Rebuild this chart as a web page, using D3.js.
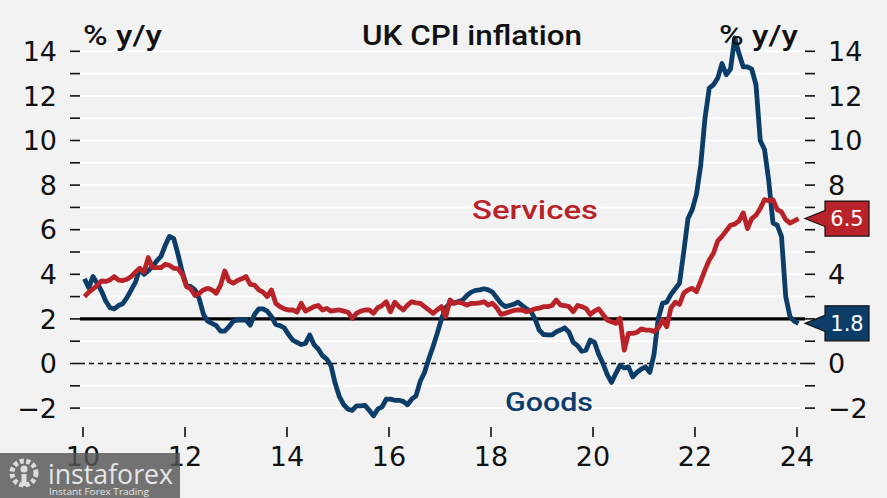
<!DOCTYPE html>
<html>
<head>
<meta charset="utf-8">
<script src="https://cdnjs.cloudflare.com/ajax/libs/d3/7.8.5/d3.min.js"></script>
<style>
  html, body { margin: 0; padding: 0; background: #f2f2f2; }
  svg { display: block; }
</style>
</head>
<body>
<div id="chart"></div>
<script>
// ---------- DATA ----------
const startYear = 2010; // monthly data, Jan 2010 .. Jan 2024
const goods = [
  3.8, 3.4, 3.9, 3.6, 3.25, 2.8, 2.5, 2.45, 2.6, 2.68, 2.95, 3.3,
  3.65, 4.25, 4.0, 4.15, 4.35, 4.6, 4.8, 5.3, 5.7, 5.6, 4.9, 4.1,
  3.5, 3.45, 3.3, 2.9, 2.2, 1.9, 1.8, 1.7, 1.45, 1.45, 1.65, 1.9,
  1.95, 1.95, 1.95, 1.72, 2.2, 2.45, 2.45, 2.35, 2.1, 1.75, 1.7, 1.6,
  1.3, 1.05, 0.95, 0.85, 0.9, 1.28, 0.85, 0.65, 0.35, 0.2, -0.1, -0.9,
  -1.5, -1.85, -2.05, -2.1, -1.9, -1.9, -1.88, -2.1, -2.35, -2.05, -1.95, -1.6,
  -1.6, -1.65, -1.65, -1.7, -1.85, -1.6, -1.45, -0.8, -0.4, 0.2, 0.75, 1.35,
  2.0, 2.5, 2.7, 2.72, 2.78, 2.85, 3.05, 3.2, 3.28, 3.3, 3.35, 3.3,
  3.2, 2.95, 2.7, 2.55, 2.6, 2.65, 2.75, 2.6, 2.45, 2.35, 2.0, 1.5,
  1.3, 1.28, 1.28, 1.42, 1.5, 1.6, 1.4, 0.95, 0.8, 0.55, 0.6, 1.05,
  0.95, 0.4, 0.0, -0.5, -0.85, -0.45, -0.08, -0.2, -0.15, -0.6, -0.4, -0.25,
  -0.15, -0.4, 0.4, 2.0, 2.7, 2.75, 3.1, 3.35, 3.6, 5.0, 6.5, 6.9,
  7.6, 8.9, 11.0, 12.35, 12.5, 12.8, 13.45, 12.95, 13.2, 14.6, 13.9, 13.3,
  13.3, 13.2, 12.5, 10.0, 9.6, 8.2, 6.3, 6.2, 5.7, 3.0, 2.1, 1.9,
  1.8
];
const services = [
  3.0, 3.2, 3.35, 3.5, 3.7, 3.68, 3.75, 3.9, 3.74, 3.72, 3.78, 3.9,
  4.1, 4.27, 4.1, 4.75, 4.3, 4.3, 4.3, 4.45, 4.4, 4.27, 4.25, 4.0,
  3.45, 3.35, 3.05, 3.15, 3.3, 3.37, 3.3, 3.15, 3.5, 4.15, 3.7, 3.6,
  3.72, 3.8, 3.9, 3.55, 3.52, 3.3, 3.2, 3.0, 3.3, 2.7, 2.55, 2.45,
  2.4, 2.4, 2.3, 2.7, 2.35, 2.45, 2.55, 2.6, 2.4, 2.47, 2.35, 2.38,
  2.4, 2.35, 2.3, 2.03, 2.25, 2.35, 2.4, 2.4, 2.25, 2.5, 2.6, 2.77,
  2.32, 2.75, 2.55, 2.4, 2.62, 2.77, 2.72, 2.7, 2.55, 2.4, 2.25, 2.4,
  2.55, 2.1, 2.85, 2.7, 2.75, 2.7, 2.62, 2.7, 2.7, 2.72, 2.77, 2.62,
  2.7, 2.5, 2.2, 2.25, 2.32, 2.38, 2.4, 2.4, 2.32, 2.38, 2.45, 2.48,
  2.55, 2.55, 2.6, 2.85, 2.62, 2.6, 2.55, 2.32, 2.6, 2.55, 2.47, 2.2,
  2.35, 2.45, 2.2, 1.95, 1.87, 1.8, 2.03, 0.6, 1.35, 1.35, 1.4, 1.55,
  1.5, 1.5, 1.43, 1.6, 1.95, 1.65, 2.5, 2.75, 2.65, 3.15, 3.3, 3.37,
  3.22, 3.7, 4.2, 4.64, 4.94, 5.5, 5.7, 5.95, 6.2, 6.25, 6.4, 6.75,
  6.05, 6.5, 6.65, 6.95, 7.35, 7.3, 7.35, 6.9, 6.8, 6.45, 6.3, 6.4,
  6.5
];
const months = d3.range(goods.length).map(i => startYear + (i + 0.35) / 12);
const xTicks = [2010, 2012, 2014, 2016, 2018, 2020, 2022, 2024];
const xTickLabels = ["10", "12", "14", "16", "18", "20", "22", "24"];
const yTicks = [-2, 0, 2, 4, 6, 8, 10, 12, 14];
const yTicksRightVisible = [-2, 0, 4, 8, 10, 12, 14]; // 2 and 6 are hidden behind the value flags
const yMinor = [-2, -1, 0, 1, 2, 3, 4, 5, 6, 7, 8, 9, 10, 11, 12, 13, 14];
const targetLevel = 2;
const lastGoodsLabel = "1.8";
const lastServicesLabel = "6.5";

// ---------- LAYOUT ----------
const W = 887, H = 498;
const BLUE = "#0b3d68", RED = "#b8232a";
const x = d3.scaleLinear().domain([2010, 2024]).range([83, 797]);
const y = d3.scaleLinear().domain([0, 14]).range([363.5, 51.3]);
const plotL = 80, plotR = 805;

const svg = d3.select("#chart").append("svg")
  .attr("width", W).attr("height", H)
  .style("font-family", "'DejaVu Sans', sans-serif");

svg.append("rect").attr("width", W).attr("height", H).attr("fill", "#f2f2f2");

// gridlines
svg.append("g").selectAll("line").data(yMinor.filter(v => v !== 0 && v !== targetLevel))
  .join("line")
  .attr("x1", plotL).attr("x2", plotR)
  .attr("y1", d => y(d)).attr("y2", d => y(d))
  .attr("stroke", "#ffffff").attr("stroke-width", 2);

// minor ticks left & right
const tickG = svg.append("g").attr("stroke", "#111").attr("stroke-width", 1.6);
tickG.selectAll(".tl").data(yMinor).join("line")
  .attr("x1", 70).attr("x2", 80).attr("y1", d => y(d)).attr("y2", d => y(d));
tickG.selectAll(".tr").data(yMinor).join("line")
  .attr("x1", 805).attr("x2", 815).attr("y1", d => y(d)).attr("y2", d => y(d));

// zero dashed line
svg.append("line")
  .attr("x1", 80).attr("x2", 805)
  .attr("y1", y(0)).attr("y2", y(0))
  .attr("stroke", "#111").attr("stroke-width", 1.6)
  .attr("stroke-dasharray", "5,4");

// y labels
const fmt = d => d < 0 ? "\u2212" + Math.abs(d) : String(d);
svg.append("g").selectAll("text").data(yTicks).join("text")
  .attr("x", 57).attr("y", d => y(d)).attr("dy", "0.36em")
  .attr("text-anchor", "end").attr("font-size", 27).attr("fill", "#111")
  .text(fmt);
svg.append("g").selectAll("text").data(yTicksRightVisible).join("text")
  .attr("x", 828).attr("y", d => y(d)).attr("dy", "0.36em")
  .attr("text-anchor", "start").attr("font-size", 27).attr("fill", "#111")
  .text(fmt);

// x ticks & labels
svg.append("g").selectAll("line").data(xTicks).join("line")
  .attr("x1", d => x(d)).attr("x2", d => x(d))
  .attr("y1", 427).attr("y2", 437)
  .attr("stroke", "#111").attr("stroke-width", 1.6);
svg.append("g").selectAll("text").data(xTicks).join("text")
  .attr("x", d => x(d)).attr("y", 466)
  .attr("text-anchor", "middle").attr("font-size", 27).attr("fill", "#111")
  .text((d, i) => xTickLabels[i]);

// target line at 2
svg.append("line")
  .attr("x1", plotL).attr("x2", plotR)
  .attr("y1", y(targetLevel)).attr("y2", y(targetLevel))
  .attr("stroke", "#000").attr("stroke-width", 3.2);

// data lines
const line = d3.line().x((d, i) => x(months[i])).y(d => y(d));
svg.append("path").datum(goods).attr("d", line)
  .attr("fill", "none").attr("stroke", BLUE).attr("stroke-width", 4.8)
  .attr("stroke-linejoin", "round");
svg.append("path").datum(services).attr("d", line)
  .attr("fill", "none").attr("stroke", RED).attr("stroke-width", 4.8)
  .attr("stroke-linejoin", "round");

// titles
svg.append("text").attr("x", 472).attr("y", 45).attr("text-anchor", "middle")
  .attr("font-family", "Roboto, sans-serif").attr("font-weight", 500)
  .attr("font-size", 27).attr("fill", "#111")
  .attr("textLength", 220).attr("lengthAdjust", "spacingAndGlyphs")
  .text("UK CPI inflation");
svg.append("text").attr("x", 83).attr("y", 45)
  .attr("font-family", "Roboto, sans-serif").attr("font-weight", 500)
  .attr("font-size", 27).attr("fill", "#111")
  .attr("textLength", 79).attr("lengthAdjust", "spacingAndGlyphs")
  .text("% y/y");
svg.append("text").attr("x", 719).attr("y", 45)
  .attr("font-family", "Roboto, sans-serif").attr("font-weight", 500)
  .attr("font-size", 27).attr("fill", "#111")
  .attr("textLength", 79).attr("lengthAdjust", "spacingAndGlyphs")
  .text("% y/y");

// series labels
svg.append("text").attr("x", 472).attr("y", 219)
  .attr("font-family", "Roboto, sans-serif").attr("font-weight", 500)
  .attr("font-size", 26).attr("fill", RED)
  .attr("textLength", 126).attr("lengthAdjust", "spacingAndGlyphs")
  .text("Services");
svg.append("text").attr("x", 505).attr("y", 411)
  .attr("font-family", "Roboto, sans-serif").attr("font-weight", 500)
  .attr("font-size", 26).attr("fill", BLUE)
  .attr("textLength", 88).attr("lengthAdjust", "spacingAndGlyphs")
  .text("Goods");

// end value flags
function flag(val, label, color) {
  const yv = y(val);
  const tip = 805, bx = 825, bw = 44, bh = 35;
  const top = yv - bh / 2, bot = yv + bh / 2;
  const p = d3.path();
  p.moveTo(tip, yv);
  p.lineTo(bx, yv - 8);
  p.lineTo(bx, top);
  p.lineTo(bx + bw, top);
  p.lineTo(bx + bw, bot);
  p.lineTo(bx, bot);
  p.lineTo(bx, yv + 8);
  p.closePath();
  svg.append("path").attr("d", p.toString())
    .attr("fill", color).attr("stroke", "#111").attr("stroke-width", 1.2);
  svg.append("text").attr("x", bx + bw / 2).attr("y", yv).attr("dy", "0.36em")
    .attr("text-anchor", "middle").attr("font-size", 21).attr("fill", "#fff")
    .text(label);
}
flag(services[services.length - 1], lastServicesLabel, RED);
flag(goods[goods.length - 1], lastGoodsLabel, BLUE);

// watermark
const wm = svg.append("g");
wm.append("rect").attr("x", 0).attr("y", 453).attr("width", 180).attr("height", 45)
  .attr("fill", "#555").attr("opacity", 0.82);
wm.append("circle").attr("cx", 24).attr("cy", 473).attr("r", 12)
  .attr("fill", "none").attr("stroke", "#ddd").attr("stroke-width", 5)
  .attr("stroke-dasharray", "4,2.5");
wm.append("circle").attr("cx", 24).attr("cy", 469).attr("r", 3.5).attr("fill", "#ddd");
wm.append("rect").attr("x", 21.5).attr("y", 474).attr("width", 5).attr("height", 12).attr("fill", "#ddd");
wm.append("text").attr("x", 48).attr("y", 484)
  .attr("font-family", "'Open Sans', sans-serif").attr("font-size", 28)
  .attr("fill", "#e6e6e6").attr("textLength", 125).attr("lengthAdjust", "spacingAndGlyphs")
  .text("instaforex");
wm.append("text").attr("x", 49).attr("y", 495)
  .attr("font-family", "'Open Sans', sans-serif").attr("font-size", 9.5)
  .attr("fill", "#e6e6e6").attr("textLength", 100).attr("lengthAdjust", "spacingAndGlyphs")
  .text("Instant Forex Trading");
</script>
</body>
</html>
